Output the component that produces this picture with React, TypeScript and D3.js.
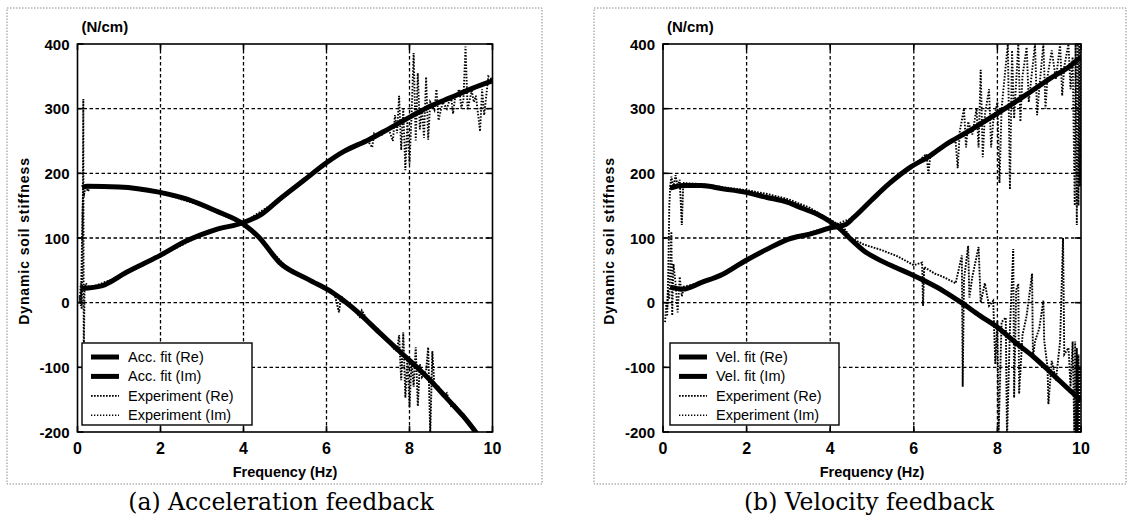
import React, { useRef, useEffect } from 'react';
import * as d3 from 'd3';

type Pt = [number, number];

// axis ticks
const FREQ_TICKS = [0, 2, 4, 6, 8, 10];
const STIFF_TICKS = [-200, -100, 0, 100, 200, 300, 400];

// (a) acceleration feedback - fitted curves  [Hz, N/cm]
const accFitRe: Pt[] = [
  [0.11, 178], [0.24, 180], [1.0, 179], [1.96, 171], [2.64, 160], [3.33, 142], [4.01, 121],
  [4.36, 102], [4.87, 62], [5.56, 36], [6.16, 15], [6.42, 3], [6.76, -15], [7.27, -46],
  [7.79, -77], [8.2, -101], [8.47, -118], [8.9, -148], [9.3, -176], [9.62, -202],
];
const accFitIm: Pt[] = [
  [0.11, 22], [0.58, 26], [1.18, 47], [1.96, 72], [2.64, 96], [3.33, 113], [4.01, 124],
  [4.44, 137], [4.87, 160], [5.47, 190], [5.99, 216], [6.42, 234], [7.02, 252], [7.53, 270],
  [8.04, 288], [8.47, 303], [8.99, 317], [9.5, 331], [10.0, 343],
];

// (a) acceleration feedback - measured
const accExpRe: Pt[] = [
  [0.05, 10], [0.08, -5], [0.1, 60], [0.12, 140], [0.14, 172], [0.16, 168], [0.2, 180],
  [0.25, 172], [0.3, 178], [0.5, 180], [1, 179], [2, 170], [3, 150], [4, 121], [4.5, 92],
  [5, 57], [5.5, 38], [6, 22], [6.2, 12], [6.3, -15], [6.35, 10], [6.5, 0], [6.8, -22],
  [6.85, -12], [7, -28], [7.3, -48], [7.5, -58], [7.6, -70], [7.7, -75], [7.75, -50],
  [7.8, -120], [7.85, -46], [7.9, -147], [7.95, -85], [8.0, -162], [8.05, -90], [8.1, -130],
  [8.15, -69], [8.2, -160], [8.25, -95], [8.3, -115], [8.4, -105], [8.45, -69], [8.5, -205],
  [8.55, -75], [8.6, -130], [8.7, -130], [8.8, -145], [8.9, -140], [9.0, -160], [9.1, -158],
  [9.2, -170], [9.3, -172], [9.4, -185], [9.5, -190], [9.6, -205],
];
const accExpIm: Pt[] = [
  [0.05, 0], [0.08, 30], [0.1, -10], [0.12, 40], [0.14, 315], [0.15, -90], [0.17, 20],
  [0.2, 30], [0.3, 22], [0.5, 28], [1, 40], [2, 72], [3, 105], [4, 124], [5, 165], [6, 216],
  [6.5, 236], [7, 250], [7.1, 240], [7.15, 262], [7.3, 258], [7.5, 268], [7.6, 250],
  [7.65, 290], [7.7, 262], [7.75, 320], [7.8, 236], [7.85, 300], [7.9, 205], [7.95, 280],
  [8.0, 215], [8.05, 290], [8.1, 386], [8.15, 251], [8.2, 355], [8.25, 268], [8.3, 300],
  [8.35, 255], [8.4, 349], [8.45, 252], [8.5, 310], [8.6, 298], [8.65, 330], [8.7, 282],
  [8.8, 310], [8.9, 300], [9.0, 320], [9.05, 292], [9.1, 318], [9.2, 330], [9.25, 300],
  [9.3, 315], [9.35, 396], [9.4, 298], [9.5, 328], [9.55, 310], [9.6, 320], [9.7, 265],
  [9.75, 330], [9.8, 290], [9.9, 350], [10, 345],
];

// (b) velocity feedback - fitted curves
const velFitRe: Pt[] = [
  [0.17, 177], [0.48, 181], [0.91, 181], [1.43, 176], [1.95, 171], [2.47, 163], [2.99, 155],
  [3.33, 146], [3.68, 137], [4.03, 124], [4.2, 116], [4.46, 100], [4.81, 80], [5.15, 67],
  [5.58, 54], [5.93, 44], [6.28, 33], [6.71, 18], [7.14, 0], [7.58, -20], [8.0, -38],
  [8.44, -62], [8.87, -84], [9.31, -110], [9.74, -136], [10, -151],
];
const velFitIm: Pt[] = [
  [0.17, 24], [0.48, 21], [0.91, 31], [1.43, 44], [1.95, 64], [2.47, 82], [2.99, 98],
  [3.51, 106], [4.03, 116], [4.37, 121], [4.55, 131], [4.98, 158], [5.41, 184], [5.93, 210],
  [6.36, 226], [6.8, 246], [7.23, 262], [7.66, 279], [8.18, 300], [8.7, 322], [9.22, 345],
  [9.74, 366], [10, 380],
];

// (b) velocity feedback - measured
const velExpRe: Pt[] = [
  [0.1, -20], [0.13, 60], [0.15, 150], [0.17, 178], [0.2, 195], [0.25, 178], [0.3, 197],
  [0.35, 180], [0.4, 190], [0.45, 120], [0.48, 175], [0.5, 185], [1, 183], [1.5, 178],
  [2, 174], [2.5, 168], [3, 160], [3.5, 147], [4, 128], [4.3, 118], [4.5, 100], [4.8, 90],
  [5.2, 82], [5.6, 72], [6, 58], [6.2, 62], [6.22, -5], [6.25, 55], [6.5, 45], [6.7, 40],
  [7, 30], [7.15, 73], [7.17, -130], [7.2, 35], [7.3, 88], [7.33, 8], [7.4, 40], [7.55, 86],
  [7.6, 0], [7.7, 30], [7.8, -5], [7.9, 3], [7.95, -95], [8.0, -28], [8.03, -200], [8.1, -30],
  [8.2, -23], [8.23, -210], [8.3, -40], [8.38, 83], [8.4, -147], [8.45, 20], [8.5, 29],
  [8.52, -141], [8.6, -50], [8.7, -20], [8.83, 45], [8.85, -85], [8.9, -60], [9.0, -40],
  [9.1, 3], [9.12, -59], [9.2, -100], [9.22, -157], [9.3, -90], [9.4, -120], [9.5, -60],
  [9.57, 100], [9.6, -80], [9.7, -70], [9.75, -130], [9.8, -60], [9.84, -200], [9.86, -60],
  [9.88, -200], [9.9, -70], [9.92, -200], [9.94, -80], [9.96, -200], [9.98, -100], [10, -150],
];
const velExpIm: Pt[] = [
  [0.05, -30], [0.08, 0], [0.1, -10], [0.12, 20], [0.15, 5], [0.2, 110], [0.22, -20],
  [0.25, 60], [0.3, 30], [0.35, -15], [0.4, 40], [0.45, 10], [0.5, 25], [1, 32], [1.5, 45],
  [2, 68], [2.5, 84], [3, 100], [3.5, 108], [4, 118], [4.5, 130], [5, 160], [5.5, 190],
  [6, 212], [6.3, 230], [6.35, 200], [6.4, 230], [6.8, 245], [7.0, 250], [7.05, 208],
  [7.1, 265], [7.2, 300], [7.25, 240], [7.3, 280], [7.4, 260], [7.5, 300], [7.55, 240],
  [7.6, 360], [7.65, 225], [7.7, 290], [7.8, 330], [7.85, 240], [7.9, 280], [8.0, 310],
  [8.05, 185], [8.1, 300], [8.25, 400], [8.3, 175], [8.35, 390], [8.4, 285], [8.5, 400],
  [8.55, 280], [8.6, 350], [8.7, 395], [8.75, 310], [8.8, 340], [8.9, 400], [8.95, 290],
  [9.0, 330], [9.1, 400], [9.15, 300], [9.2, 350], [9.3, 390], [9.4, 345], [9.5, 400],
  [9.55, 320], [9.6, 365], [9.7, 400], [9.75, 330], [9.8, 380], [9.85, 150], [9.87, 400],
  [9.9, 120], [9.92, 400], [9.94, 150], [9.96, 400], [9.98, 180], [10, 390],
];

const accLegend = ['Acc. fit (Re)', 'Acc. fit (Im)', 'Experiment (Re)', 'Experiment (Im)'];
const velLegend = ['Vel. fit (Re)', 'Vel. fit (Im)', 'Experiment (Re)', 'Experiment (Im)'];

const SANS = '"Liberation Sans", Arial, sans-serif';

const Panel = ({ id, cfg, fitRe, fitIm, expRe, expIm, legend, caption }) => {
  const gRef = useRef<SVGGElement>(null);

  useEffect(() => {
    const g = d3.select(gRef.current);
    g.selectAll('*').remove();

    const x = d3.scaleLinear().domain([0, 10]).range([cfg.x0, cfg.x1]);
    const y = d3.scaleLinear().domain([-200, 400]).range([cfg.yBot, cfg.yTop]);

    // outer dotted frame of the figure
    g.append('rect')
      .attr('x', cfg.frame[0]).attr('y', cfg.frame[1])
      .attr('width', cfg.frame[2]).attr('height', cfg.frame[3])
      .attr('fill', 'none').attr('stroke', '#888')
      .attr('stroke-width', 1).attr('stroke-dasharray', '1.5,1.5');

    g.append('clipPath').attr('id', `clip-${id}`)
      .append('rect')
      .attr('x', cfg.x0).attr('y', cfg.yTop)
      .attr('width', cfg.x1 - cfg.x0).attr('height', cfg.yBot - cfg.yTop);

    // grid
    const grid = g.append('g').attr('stroke', '#000').attr('stroke-width', 1.3)
      .attr('stroke-dasharray', '3.5,2.5');
    grid.selectAll('.gx').data(FREQ_TICKS.slice(1, -1)).enter().append('line')
      .attr('x1', d => x(d)).attr('x2', d => x(d))
      .attr('y1', cfg.yTop).attr('y2', cfg.yBot);
    grid.selectAll('.gy').data(STIFF_TICKS.slice(1, -1)).enter().append('line')
      .attr('y1', d => y(d)).attr('y2', d => y(d))
      .attr('x1', cfg.x0).attr('x2', cfg.x1);

    const plot = g.append('g').attr('clip-path', `url(#clip-${id})`);
    const lin = d3.line<Pt>().x(d => x(d[0])).y(d => y(d[1]));
    const smooth = d3.line<Pt>().x(d => x(d[0])).y(d => y(d[1])).curve(d3.curveMonotoneX);

    plot.append('path').attr('d', lin(expIm)).attr('fill', 'none')
      .attr('stroke', '#000').attr('stroke-width', 1.9).attr('stroke-dasharray', '1.5,1.6');
    plot.append('path').attr('d', lin(expRe)).attr('fill', 'none')
      .attr('stroke', '#000').attr('stroke-width', 1.9).attr('stroke-dasharray', '1.7,1.3');
    plot.append('path').attr('d', smooth(fitIm)).attr('fill', 'none')
      .attr('stroke', '#000').attr('stroke-width', 5).attr('stroke-linejoin', 'round');
    plot.append('path').attr('d', smooth(fitRe)).attr('fill', 'none')
      .attr('stroke', '#000').attr('stroke-width', 5).attr('stroke-linejoin', 'round');

    // axes box and inward ticks
    g.append('rect')
      .attr('x', cfg.x0).attr('y', cfg.yTop)
      .attr('width', cfg.x1 - cfg.x0).attr('height', cfg.yBot - cfg.yTop)
      .attr('fill', 'none').attr('stroke', '#000').attr('stroke-width', 1.6);
    const ticks = g.append('g').attr('stroke', '#000').attr('stroke-width', 1.6);
    FREQ_TICKS.forEach(t => {
      ticks.append('line').attr('x1', x(t)).attr('x2', x(t)).attr('y1', cfg.yBot).attr('y2', cfg.yBot - 6);
      ticks.append('line').attr('x1', x(t)).attr('x2', x(t)).attr('y1', cfg.yTop).attr('y2', cfg.yTop + 6);
    });
    STIFF_TICKS.forEach(t => {
      ticks.append('line').attr('y1', y(t)).attr('y2', y(t)).attr('x1', cfg.x0).attr('x2', cfg.x0 + 6);
      ticks.append('line').attr('y1', y(t)).attr('y2', y(t)).attr('x1', cfg.x1).attr('x2', cfg.x1 - 6);
    });

    // tick labels
    g.selectAll('.xl').data(FREQ_TICKS).enter().append('text')
      .attr('x', d => x(d)).attr('y', cfg.yBot + 22)
      .attr('text-anchor', 'middle')
      .attr('font-family', SANS).attr('font-weight', 'bold').attr('font-size', 16)
      .text(d => d);
    g.selectAll('.yl').data(STIFF_TICKS).enter().append('text')
      .attr('x', cfg.x0 - 8).attr('y', d => y(d) + 5.5)
      .attr('text-anchor', 'end')
      .attr('font-family', SANS).attr('font-weight', 'bold').attr('font-size', 15)
      .text(d => d);

    // axis titles
    g.append('text')
      .attr('x', (cfg.x0 + cfg.x1) / 2).attr('y', cfg.yBot + 45)
      .attr('text-anchor', 'middle')
      .attr('font-family', SANS).attr('font-weight', 'bold').attr('font-size', 14.5)
      .text('Frequency (Hz)');
    g.append('text')
      .attr('transform', `translate(${cfg.x0 - 49},${(cfg.yTop + cfg.yBot) / 2 + 3}) rotate(-90)`)
      .attr('text-anchor', 'middle')
      .attr('font-family', SANS).attr('font-weight', 'bold').attr('font-size', 14)
      .attr('letter-spacing', 0.9)
      .text('Dynamic soil stiffness');
    g.append('text')
      .attr('x', cfg.x0 + 4).attr('y', cfg.yTop - 12)
      .attr('font-family', SANS).attr('font-weight', 'bold').attr('font-size', 15)
      .text('(N/cm)');

    // legend
    const lg = g.append('g');
    lg.append('rect')
      .attr('x', cfg.legend[0]).attr('y', cfg.legend[1])
      .attr('width', cfg.legend[2]).attr('height', cfg.legend[3])
      .attr('fill', '#fff').attr('stroke', '#000').attr('stroke-width', 1.4);
    const styles = [
      { w: 5, dash: null },
      { w: 5, dash: null },
      { w: 1.8, dash: '1.7,1.3' },
      { w: 1.5, dash: '1.3,1.7' },
    ];
    legend.forEach((label, i) => {
      const ry = cfg.legend[1] + 14 + i * 19.4;
      lg.append('line')
        .attr('x1', cfg.legend[0] + 9).attr('x2', cfg.legend[0] + 37)
        .attr('y1', ry).attr('y2', ry)
        .attr('stroke', '#000').attr('stroke-width', styles[i].w)
        .attr('stroke-dasharray', styles[i].dash);
      lg.append('text')
        .attr('x', cfg.legend[0] + 46).attr('y', ry + 5)
        .attr('font-family', SANS).attr('font-size', 14.5)
        .text(label);
    });

    // caption
    g.append('text')
      .attr('x', cfg.captionX).attr('y', 510)
      .attr('text-anchor', 'middle')
      .attr('font-family', '"DejaVu Serif", serif').attr('font-size', 23.5)
      .text(caption);
  }, [id, cfg, fitRe, fitIm, expRe, expIm, legend, caption]);

  return <g ref={gRef}></g>;
};

const leftCfg = {
  x0: 77.5, x1: 492.5, yTop: 44, yBot: 432,
  frame: [7, 8, 535, 476], legend: [82, 343, 170, 82], captionX: 281,
};
const rightCfg = {
  x0: 663, x1: 1081, yTop: 44, yBot: 432,
  frame: [594, 8, 532, 476], legend: [670, 343, 169, 82], captionX: 869,
};

export default function App() {
  return (
    <svg width={1130} height={520} style={{ position: 'absolute', left: 0, top: 0, background: '#fff' }}>
      <rect width={1130} height={520} fill="#fff" />
      <Panel id="acc" cfg={leftCfg} fitRe={accFitRe} fitIm={accFitIm} expRe={accExpRe} expIm={accExpIm}
        legend={accLegend} caption="(a) Acceleration feedback" />
      <Panel id="vel" cfg={rightCfg} fitRe={velFitRe} fitIm={velFitIm} expRe={velExpRe} expIm={velExpIm}
        legend={velLegend} caption="(b) Velocity feedback" />
    </svg>
  );
}
